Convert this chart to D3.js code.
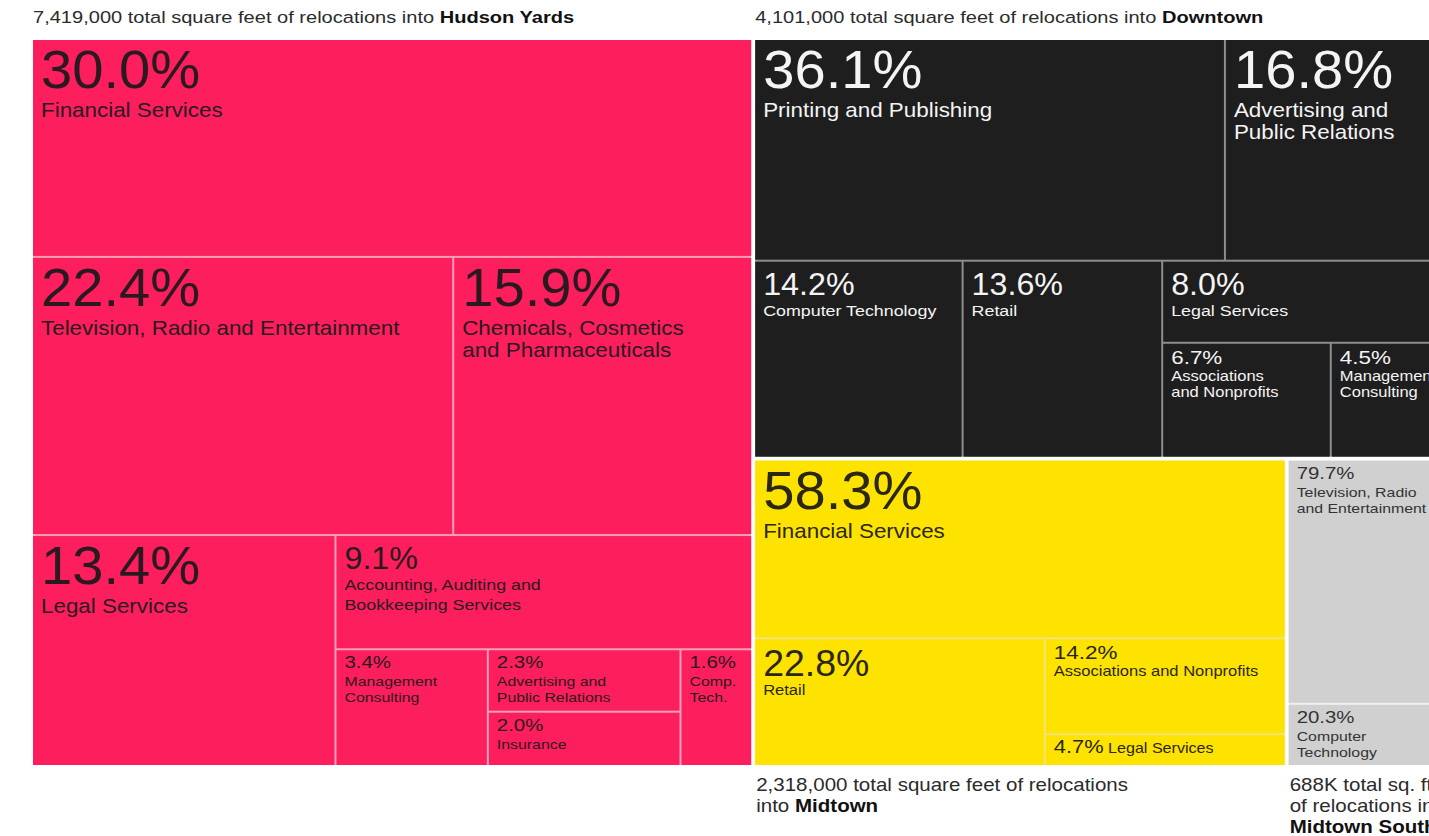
<!DOCTYPE html>
<html>
<head>
<meta charset="utf-8">
<script src="https://cdnjs.cloudflare.com/ajax/libs/d3/7.8.5/d3.min.js"></script>
<style>
  body { margin: 0; background: #fff; overflow: hidden; }
  svg { display: block; font-family: "Liberation Sans", Arial, Helvetica, sans-serif; }
</style>
</head>
<body>
<svg id="chart"></svg>
<script>
// ---- data ----
const groupNames = ['Hudson Yards', 'Downtown', 'Midtown', 'Midtown South'];
const groupTotals = [7419000, 4101000, 2318000, 688000];
const groupCaptions = [
    ['7,419,000 total square feet of relocations into '],
    ['4,101,000 total square feet of relocations into '],
    ['2,318,000 total square feet of relocations', 'into '],
    ['688K total sq. ft.', 'of relocations into', '']
];

const hudsonSectors = ['Financial Services', 'Television, Radio and Entertainment',
    'Chemicals, Cosmetics\nand Pharmaceuticals', 'Legal Services',
    'Accounting, Auditing and\nBookkeeping Services', 'Management\nConsulting',
    'Advertising and\nPublic Relations', 'Insurance', 'Comp.\nTech.'];
const hudsonShares = [30.0, 22.4, 15.9, 13.4, 9.1, 3.4, 2.3, 2.0, 1.6];

const downtownSectors = ['Printing and Publishing', 'Advertising and\nPublic Relations',
    'Computer Technology', 'Retail', 'Legal Services',
    'Associations\nand Nonprofits', 'Management\nConsulting'];
const downtownShares = [36.1, 16.8, 14.2, 13.6, 8.0, 6.7, 4.5];

const midtownSectors = ['Financial Services', 'Retail', 'Associations and Nonprofits', 'Legal Services'];
const midtownShares = [58.3, 22.8, 14.2, 4.7];

const southSectors = ['Television, Radio\nand Entertainment', 'Computer\nTechnology'];
const southShares = [79.7, 20.3];

// how the cells nest: 'x' = side by side, 'y' = stacked; numbers are indexes
const topNest = ['x', 0, ['y', 1, ['x', 2, 3]]];
const groupNests = [
    ['y', 0, ['x', 1, 2], ['x', 3, ['y', 4, ['x', 5, ['y', 6, 7], 8]]]],
    ['y', ['x', 0, 1], ['x', 2, 3, ['y', 4, ['x', 5, 6]]]],
    ['y', 0, ['x', 1, ['y', 2, 3]]],
    ['y', 0, 1]
];

// ---- styles ----
const sectors = [hudsonSectors, downtownSectors, midtownSectors, southSectors];
const shares = [hudsonShares, downtownShares, midtownShares, southShares];
const tiers = [
    ['xl', 'xl', 'xl', 'xl', 'm', 'xs', 'xs', 'xs', 'xs'],
    ['xl', 'xl', 'm', 'm', 'm', 's', 's'],
    ['xl', 'l', 's', 'inline'],
    ['xs', 'xs']
];
// font sizes, baselines from cell top, and horizontal stretch (the type is a wide grotesque)
const tierStyle = {
    xl:     {pct: 54, psx: 1.04, pctDy: 48, lab: 20, lsx: 1.12, labDy: 77, lh: 22},
    l:      {pct: 36, psx: 1.04, pctDy: 37, lab: 15, lsx: 1.1,  labDy: 56, lh: 18},
    m:      {pct: 31, psx: 1.04, pctDy: 33, lab: 15, lsx: 1.19, labDy: 54, lh: 20},
    s:      {pct: 19, psx: 1.18, pctDy: 20, lab: 14, lsx: 1.18, labDy: 37, lh: 16},
    xs:     {pct: 17, psx: 1.2,  pctDy: 18, lab: 13, lsx: 1.22, labDy: 36, lh: 16},
    inline: {pct: 19, psx: 1.15, pctDy: 18, lab: 14, lsx: 1.15, labDy: 18, lh: 16}
};
const fills = ['#fd1e5d', '#1f1e1f', '#ffe300', '#d0d0d0'];
const lines = ['#f7a0b9', '#8d8d8d', '#f3e27a', '#f0f0f0'];
const inks = ['#2a1a20', '#f4f4f4', '#2a2716', '#333333'];

const w = 1429, h = 836,
      m = {left: 33, top: 40},
      Mw = 1410, Mh = 725;

const svg = d3.select('#chart').attr('width', w).attr('height', h);

// build the hierarchy from the nesting specs
const build = (spec, leaf) => typeof spec === 'number'
    ? leaf(spec)
    : {dir: spec[0], children: spec.slice(1).map(s => build(s, leaf))};

const rootData = build(topNest, gi => {
    const sum = d3.sum(shares[gi]);
    const node = build(groupNests[gi], i => ({
        leaf: true, group: gi, index: i,
        value: shares[gi][i] / sum * groupTotals[gi]
    }));
    node.groupRoot = true;
    node.group = gi;
    const mark = n => { n.inGroup = true; (n.children || []).forEach(mark); };
    mark(node);
    return node;
});

const root = d3.hierarchy(rootData).sum(d => d.leaf ? d.value : 0);

d3.treemap()
    .size([Mw, Mh])
    .paddingInner(d => d.data.inGroup ? 2 : 4)
    .tile((node, x0, y0, x1, y1) =>
        (node.data.dir === 'x' ? d3.treemapDice : d3.treemapSlice)(node, x0, y0, x1, y1))
    (root);

const g = svg.append('g').attr('transform', `translate(${m.left}, ${m.top})`);

const groupsSel = root.descendants().filter(d => d.data.groupRoot);
const leaves = root.leaves();

// stretched text helper
const addText = (parent, x, y, size, sx, fill) => parent.append('g')
    .attr('transform', `translate(${x}, ${y}) scale(${sx}, 1)`)
    .append('text')
    .attr('font-size', size)
    .attr('fill', fill);

// group background shows as the thin lines between cells
g.selectAll('rect.group')
    .data(groupsSel).enter()
    .append('rect')
    .attr('class', 'group')
    .attr('x', d => d.x0).attr('y', d => d.y0)
    .attr('width', d => d.x1 - d.x0).attr('height', d => d.y1 - d.y0)
    .attr('fill', d => lines[d.data.group]);

const cell = g.selectAll('g.cell')
    .data(leaves).enter()
    .append('g')
    .attr('class', 'cell')
    .attr('transform', d => `translate(${d.x0}, ${d.y0})`);

cell.append('rect')
    .attr('width', d => d.x1 - d.x0)
    .attr('height', d => d.y1 - d.y0)
    .attr('fill', d => fills[d.data.group]);

cell.each(function (d) {
    const gi = d.data.group, i = d.data.index;
    const tier = tiers[gi][i];
    const st = tierStyle[tier];
    const ink = inks[gi];
    const sel = d3.select(this);
    const pct = shares[gi][i].toFixed(1) + '%';
    const label = sectors[gi][i];

    if (tier === 'inline') {
        const t = addText(sel, 8, st.pctDy, st.pct, st.psx, ink);
        t.append('tspan').text(pct);
        t.append('tspan').attr('font-size', st.lab).text(' ' + label);
        return;
    }
    addText(sel, 8, st.pctDy, st.pct, st.psx, ink).text(pct);
    label.split('\n').forEach((line, k) => {
        addText(sel, 8, st.labDy + k * st.lh, st.lab, st.lsx, ink).text(line);
    });
});

// captions above / below each district
groupsSel.forEach(d => {
    const gi = d.data.group;
    const cap = groupCaptions[gi];
    const below = gi >= 2;
    const fs = below ? 18 : 17;
    const sx = below ? 1.14 : 1.18;
    const lh = 21;
    cap.forEach((line, k) => {
        const y = below ? d.y1 + 26 + k * lh : d.y0 - 17;
        const t = addText(g, d.x0 + (below ? 1 : 0), y, fs, sx, '#2b2b2b').text(line);
        if (k === cap.length - 1) {
            t.append('tspan').attr('font-weight', 'bold').attr('fill', '#111').text(groupNames[gi]);
        }
    });
});
</script>
</body>
</html>
